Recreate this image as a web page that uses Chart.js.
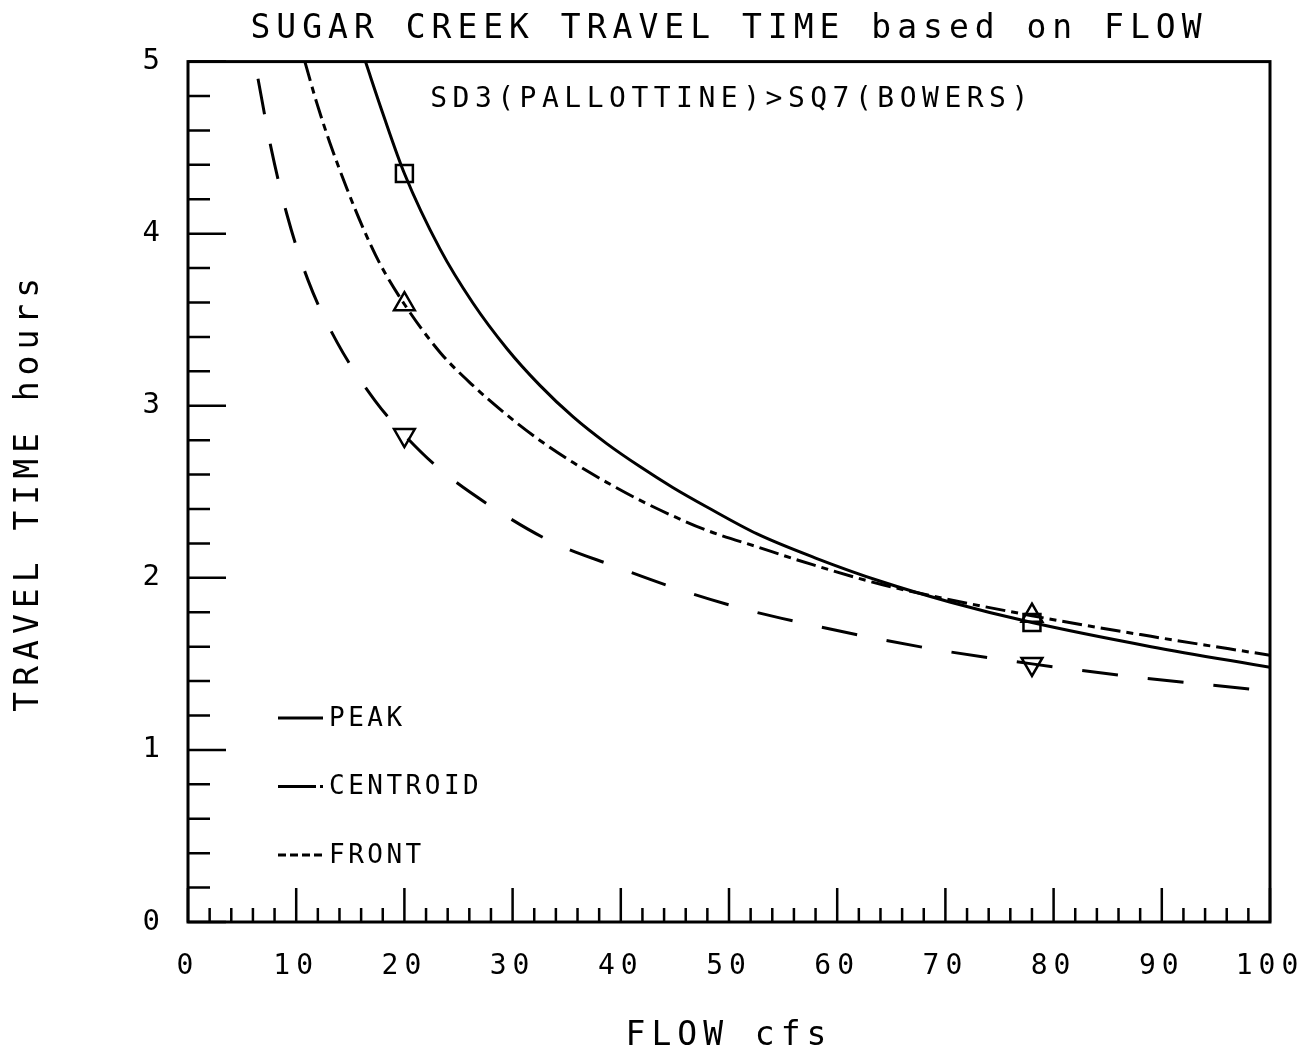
<!DOCTYPE html>
<html>
<head>
<meta charset="utf-8">
<script src="https://cdn.jsdelivr.net/npm/chart.js@4/dist/chart.umd.min.js"></script>
<style>
  html, body { margin: 0; padding: 0; background: #fff; }
  #wrap { width: 1310px; height: 1062px; }
</style>
</head>
<body>
<div id="wrap"><canvas id="travelChart"></canvas></div>
<script>
// Sugar Creek travel time vs flow (SD3 -> SQ7)

const FONT = 'DejaVu Sans Mono';

const xTicks = [0, 10, 20, 30, 40, 50, 60, 70, 80, 90, 100];
const yTicks = [0, 1, 2, 3, 4, 5];
const markerFlows = [20, 78];

const peakFlow = [16.4, 18.0, 20, 23.3, 26.3, 29.5, 32.5, 35.6, 38.7, 41.8, 44.8, 48.0, 52.6, 58.0, 64.0, 70.4, 78, 89, 100];
const peakTime = [5.0, 4.70, 4.35, 3.91, 3.60, 3.33, 3.12, 2.935, 2.78, 2.645, 2.525, 2.41, 2.255, 2.115, 1.98, 1.86, 1.74, 1.60, 1.48];

const centroidFlow = [10.8, 11.9, 13.1, 14.7, 16.2, 17.7, 20, 23.3, 26.3, 29.5, 32.5, 35.6, 38.7, 41.8, 44.8, 48.0, 52.6, 57.8, 64.2, 78, 89, 100];
const centroidTime = [5.0, 4.76, 4.53, 4.26, 4.03, 3.83, 3.59, 3.31, 3.12, 2.945, 2.80, 2.67, 2.555, 2.45, 2.36, 2.275, 2.18, 2.075, 1.96, 1.78, 1.66, 1.55];

const frontFlow = [6.47, 7.67, 9.15, 11.09, 13.77, 17.28, 20, 23.3, 27.9, 33.6, 39.3, 45.5, 51.9, 58.1, 64.2, 70.4, 78, 88, 97.2, 100];
const frontTime = [4.90, 4.50, 4.11, 3.73, 3.37, 3.03, 2.83, 2.63, 2.42, 2.21, 2.07, 1.93, 1.81, 1.72, 1.64, 1.57, 1.50, 1.42, 1.36, 1.34];

function pairs(xs, ys) {
  return xs.map((x, i) => ({ x: x, y: ys[i] }));
}

function markerRadius(ctx) {
  return ctx.raw && markerFlows.includes(ctx.raw.x) ? 12 : 0;
}

function series(label, xs, ys, dash, legendDash, pointStyle, rotation) {
  return {
    label: label,
    data: pairs(xs, ys),
    borderColor: '#000',
    borderWidth: 3,
    borderDash: dash,
    legendDash: legendDash,
    cubicInterpolationMode: 'monotone',
    fill: false,
    pointStyle: pointStyle,
    rotation: rotation,
    pointRadius: markerRadius,
    pointHoverRadius: markerRadius,
    pointBorderWidth: 2.5,
    pointBorderColor: '#000',
    pointBackgroundColor: 'rgba(0,0,0,0)',
  };
}

// box, inward ticks, inner subtitle and legend
const plotterFrame = {
  id: 'plotterFrame',
  beforeDraw(chart) {
    chart.ctx.letterSpacing = '6px';
  },
  afterDraw(chart) {
    const ctx = chart.ctx;
    const area = chart.chartArea;
    const xs = chart.scales.x;
    const ys = chart.scales.y;

    ctx.save();
    ctx.strokeStyle = '#000';
    ctx.lineCap = 'butt';

    ctx.lineWidth = 3;
    ctx.strokeRect(area.left, area.top, area.right - area.left, area.bottom - area.top);

    ctx.lineWidth = 2.5;
    ctx.beginPath();
    for (let v = 0; v <= 100; v += 2) {
      const px = xs.getPixelForValue(v);
      const len = v % 10 === 0 ? 34 : 14;
      ctx.moveTo(px, area.bottom);
      ctx.lineTo(px, area.bottom - len);
    }
    for (let i = 0; i <= 25; i++) {
      const v = i / 5;
      const py = ys.getPixelForValue(v);
      const len = i % 5 === 0 ? 38 : 22;
      ctx.moveTo(area.left, py);
      ctx.lineTo(area.left + len, py);
    }
    ctx.stroke();

    ctx.fillStyle = '#000';
    ctx.letterSpacing = '5.5px';
    ctx.font = '28px "' + FONT + '"';
    ctx.textAlign = 'center';
    ctx.textBaseline = 'middle';
    ctx.fillText('SD3(PALLOTTINE)>SQ7(BOWERS)', (area.left + area.right) / 2 + 3, area.top + 38);

    ctx.letterSpacing = '3.5px';
    ctx.font = '26px "' + FONT + '"';
    ctx.textAlign = 'left';
    chart.data.datasets.forEach((ds, i) => {
      const y = area.bottom - 204 + i * 68.5;
      ctx.lineWidth = 3;
      ctx.setLineDash(ds.legendDash);
      ctx.beginPath();
      ctx.moveTo(area.left + 90, y);
      ctx.lineTo(area.left + 135, y);
      ctx.stroke();
      ctx.setLineDash([]);
      ctx.fillText(ds.label, area.left + 141, y + 1);
    });
    ctx.restore();
  }
};

const ctx = document.getElementById('travelChart');

new Chart(ctx, {
  type: 'line',
  data: {
    datasets: [
      series('PEAK', peakFlow, peakTime, [], [], 'rect', 0),
      series('CENTROID', centroidFlow, centroidTime, [20, 6, 7, 6], [38, 4, 6, 4], 'triangle', 0),
      series('FRONT', frontFlow, frontTime, [36, 30], [8, 4], 'triangle', 180)
    ]
  },
  options: {
    responsive: true,
    maintainAspectRatio: false,
    animation: false,
    layout: {
      padding: { top: 0, right: 40, bottom: 0, left: 0 }
    },
    plugins: {
      legend: { display: false },
      tooltip: { enabled: false },
      title: {
        display: true,
        fullSize: false,
        text: 'SUGAR CREEK TRAVEL TIME based on FLOW',
        color: '#000',
        font: { family: FONT, size: 33, weight: 'normal' },
        padding: { top: 10, bottom: 12 }
      }
    },
    scales: {
      x: {
        type: 'linear',
        min: 0,
        max: 100,
        afterBuildTicks: function(scale) {
          scale.ticks = xTicks.map(v => ({ value: v }));
        },
        afterFit: function(scale) {
          scale.height = 140;
          scale.paddingLeft = 0;
          scale.paddingRight = 0;
        },
        grid: { display: false, drawTicks: false },
        border: { display: false },
        ticks: {
          color: '#000',
          padding: 28,
          maxRotation: 0,
          font: { family: FONT, size: 28 }
        },
        title: {
          display: true,
          text: 'FLOW cfs',
          color: '#000',
          font: { family: FONT, size: 33, weight: 'normal' },
          padding: { top: 0, bottom: 6 }
        }
      },
      y: {
        type: 'linear',
        min: 0,
        max: 5,
        afterBuildTicks: function(scale) {
          scale.ticks = yTicks.map(v => ({ value: v }));
        },
        afterFit: function(scale) {
          scale.width = 188;
        },
        grid: { display: false, drawTicks: false },
        border: { display: false },
        ticks: {
          color: '#000',
          padding: 22,
          font: { family: FONT, size: 29 }
        },
        title: {
          display: true,
          text: 'TRAVEL TIME hours',
          color: '#000',
          font: { family: FONT, size: 33, weight: 'normal' },
          padding: { top: 10, bottom: 0 }
        }
      }
    }
  },
  plugins: [plotterFrame]
});
</script>
</body>
</html>
